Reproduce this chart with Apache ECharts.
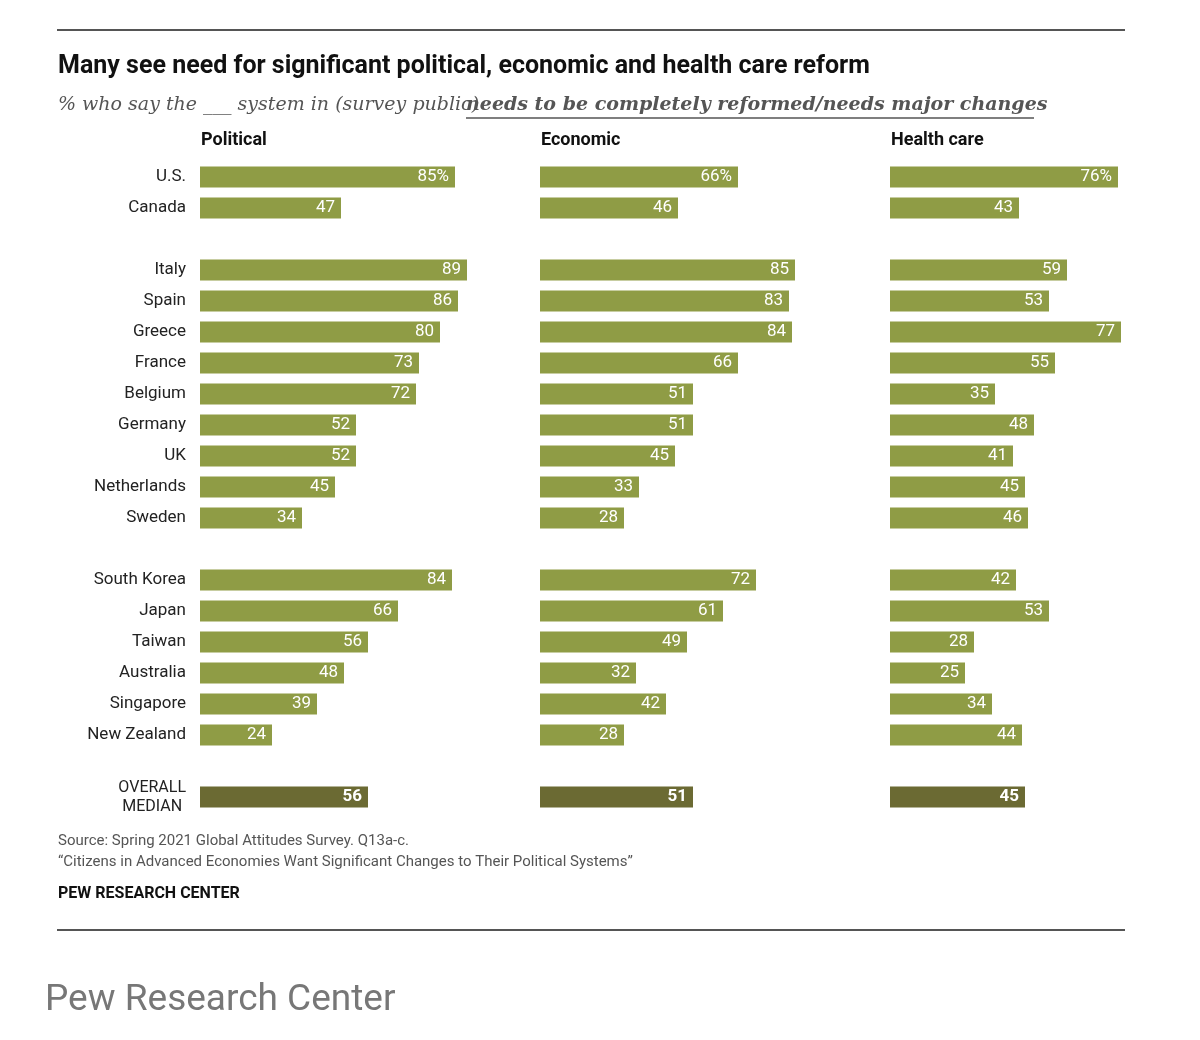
<!DOCTYPE html>
<html>
<head>
<meta charset="utf-8"/>
<script src="https://cdn.jsdelivr.net/npm/echarts@6/dist/echarts.min.js"></script>
<style>body{margin:0;background:#fff}#c{width:1200px;height:1040px}</style>
</head>
<body>
<div id="c"></div>
<script>
var countries = ['U.S.','Canada','','Italy','Spain','Greece','France','Belgium','Germany','UK','Netherlands','Sweden','','South Korea','Japan','Taiwan','Australia','Singapore','New Zealand','','OVERALL MEDIAN'];
var political = [85,47,null,89,86,80,73,72,52,52,45,34,null,84,66,56,48,39,24,null,56];
var economic  = [66,46,null,85,83,84,66,51,51,45,33,28,null,72,61,49,32,42,28,null,51];
var health    = [76,43,null,59,53,77,55,35,48,41,45,46,null,42,53,28,25,34,44,null,45];
var headers = ['Political','Economic','Health care'];

var BAR = '#8f9c45', MED = '#6b6a33';
var lefts = [200, 540, 890];
var chart = echarts.init(document.getElementById('c'));
var grids = [], xAxes = [], yAxes = [], series = [];
[political, economic, health].forEach(function (vals, i) {
  grids.push({left: lefts[i], width: 300, top: 161.5, height: 651});
  xAxes.push({gridIndex: i, type: 'value', min: 0, max: 100, show: false});
  yAxes.push({gridIndex: i, type: 'category', inverse: true, data: countries,
    axisLine: {show: false}, axisTick: {show: false},
    axisLabel: {show: i === 0, margin: 14, fontSize: 17, color: '#222', fontFamily: 'Roboto',
      formatter: function (v) { return v === 'OVERALL MEDIAN' ? '{m|OVERALL\nMEDIAN}' : v; },
      rich: {m: {fontSize: 16, lineHeight: 19, align: 'center', color: '#222'}}}});
  series.push({type: 'bar', xAxisIndex: i, yAxisIndex: i, barWidth: 21,
    data: vals.map(function (v, k) {
      if (v === null) return null;
      var med = k === vals.length - 1;
      return {value: v, itemStyle: {color: med ? MED : BAR},
        label: {fontWeight: med ? 'bold' : 'normal'}};
    }),
    label: {show: true, position: 'insideRight', distance: 6, color: '#fff', fontSize: 17, fontFamily: 'Roboto',
      formatter: function (p) { return p.dataIndex === 0 ? p.value + '%' : p.value; }}});
});
var graphic = [
  {type: 'line', shape: {x1: 57, y1: 30, x2: 1125, y2: 30}, style: {stroke: '#555', lineWidth: 2}},
  {type: 'line', shape: {x1: 57, y1: 930, x2: 1125, y2: 930}, style: {stroke: '#555', lineWidth: 2}},
  {type: 'text', left: 58, top: 54, style: {text: 'Many see need for significant political, economic and health care reform', font: 'bold 25px Roboto', fill: '#111'}},
  {type: 'text', left: 58, top: 96, style: {text: '% who say the ___ system in (survey public)', font: 'italic 19px "DejaVu Serif"', fill: '#555'}},
  {type: 'text', left: 466, top: 96, style: {text: 'needs to be completely reformed/needs major changes', font: 'italic bold 19px "DejaVu Serif"', fill: '#555'}},
  {type: 'line', shape: {x1: 466, y1: 118, x2: 1034, y2: 118}, style: {stroke: '#555', lineWidth: 1.5}},
  {type: 'text', left: 58, top: 834, style: {text: 'Source: Spring 2021 Global Attitudes Survey. Q13a-c.', font: '15px Roboto', fill: '#555'}},
  {type: 'text', left: 58, top: 855, style: {text: '\u201cCitizens in Advanced Economies Want Significant Changes to Their Political Systems\u201d', font: '15px Roboto', fill: '#555'}},
  {type: 'text', left: 58, top: 886, style: {text: 'PEW RESEARCH CENTER', font: 'bold 16px Roboto', fill: '#111'}},
  {type: 'text', left: 45, top: 982, style: {text: 'Pew Research Center', font: '37px Roboto', fill: '#777'}}
];
headers.forEach(function (h, i) {
  graphic.push({type: 'text', left: lefts[i] + 1, top: 131, style: {text: h, font: 'bold 18px Roboto', fill: '#111'}});
});
chart.setOption({animation: false, grid: grids, xAxis: xAxes, yAxis: yAxes, series: series, graphic: graphic});
</script>
</body>
</html>
